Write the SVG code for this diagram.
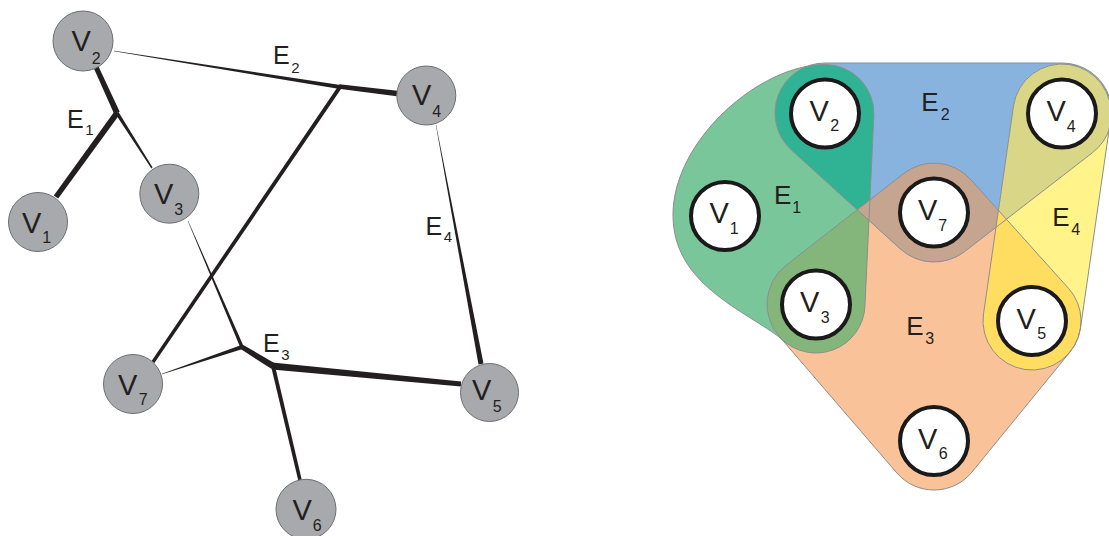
<svg xmlns="http://www.w3.org/2000/svg" width="1109" height="536" viewBox="0 0 1109 536">
  <style>
    .gnode { fill: #a7a9ac; stroke: #6d6e71; stroke-width: 1; }
    .wnode { fill: #ffffff; stroke: #1a1a1a; stroke-width: 4; }
    .edge { fill: #231f20; stroke: none; }
    .lbl { font-family: "Liberation Sans", Arial, sans-serif; fill: #231f20; }
    .hull-line { fill: none; stroke: #8e8e8e; stroke-width: 1; }
  </style>
  <defs>
    <!-- rounded hulls of the hyperedges -->
    <path id="hE1" d="M873.9,115.3 L864.9,306.3 A49,49 0 0 1 781.9,339.2 C745,310 673,285 673,215 C673,140 760,64.5 825,64.5 A49,49 0 0 1 873.9,115.3 Z"/>
    <path id="hE2" d="M825,63 L1062,63 A50,50 0 0 1 1092.6,152.6 L964.6,251.6 A50,50 0 0 1 900.4,249 L791.4,150 A50,50 0 0 1 825,63 Z"/>
    <path id="hE3" d="M970.4,179.2 L1068.4,288.2 A49,49 0 0 1 1070,352 L972,472 A49,49 0 0 1 896.9,473 L778.9,336 A49,49 0 0 1 785.9,265.4 L903.9,173.4 A49,49 0 0 1 970.4,179.2 Z"/>
    <path id="hE4" d="M1110.5,120 L1080.5,328 A49,49 0 0 1 983.5,314 L1013.5,106 A49,49 0 0 1 1110.5,120 Z"/>
    <clipPath id="cE1"><use href="#hE1"/></clipPath>
    <clipPath id="cE2"><use href="#hE2"/></clipPath>
    <clipPath id="cE3"><use href="#hE3"/></clipPath>
  </defs>

  <!-- left: graph with tapered edges -->
  <g id="connectors">
    <!-- E1 -->
    <polygon class="edge" points="93.7,68.0 114.3,114.2 119.7,111.8 98.3,66.0"/>
    <polygon class="edge" points="114.6,111.2 53.8,195.4 58.2,198.6 119.4,114.8"/>
    <polygon class="edge" points="115.5,113.9 151.4,168.4 152.6,167.6 118.5,112.1"/>
    <!-- E2 -->
    <polygon class="edge" points="114,51.2 339.7,89.0 340.3,85.0 114,50.8"/>
    <polygon class="edge" points="338.7,88.7 396.7,96.2 397.3,90.8 339.3,84.3"/>
    <polygon class="edge" points="338.3,85.9 151.6,361.0 154.4,363.0 341.7,88.1"/>
    <!-- E3 -->
    <polygon class="edge" points="187.8,221.1 240.4,347.7 243.6,346.3 188.2,220.9"/>
    <polygon class="edge" points="162.05,374.14 242.6,348.9 241.4,345.1 161.95,373.86"/>
    <polygon class="edge" points="240.7,349.1 271.3,368.8 274.7,363.2 243.3,344.9"/>
    <polygon class="edge" points="271.7,369.5 460.8,386.5 461.2,381.5 272.3,362.5"/>
    <polygon class="edge" points="271.1,366.5 298.3,480.4 301.7,479.6 274.9,365.5"/>
    <!-- E4 -->
    <polygon class="edge" points="435.85,125.03 478.5,364.5 483.5,363.5 436.15,124.97"/>
  </g>

  <g id="edge-labels-left" class="lbl">
    <text x="67" y="127.5" font-size="25">E<tspan font-size="15" dx="1.5" dy="7">1</tspan></text>
    <text x="273" y="63.5" font-size="25">E<tspan font-size="15" dx="1.5" dy="9">2</tspan></text>
    <text x="263" y="351.5" font-size="25">E<tspan font-size="15" dx="1.5" dy="8">3</tspan></text>
    <text x="425.5" y="235" font-size="25">E<tspan font-size="15" dx="1.5" dy="7">4</tspan></text>
  </g>

  <g id="g-v1"><circle class="gnode" cx="38" cy="222" r="29.5"/><text class="lbl" x="22" y="233" font-size="29">V<tspan font-size="16" dx="1" dy="10">1</tspan></text></g>
  <g id="g-v2"><circle class="gnode" cx="83" cy="41" r="30"/><text class="lbl" x="71.5" y="51" font-size="29">V<tspan font-size="16" dx="1" dy="13">2</tspan></text></g>
  <g id="g-v3"><circle class="gnode" cx="169.3" cy="193.7" r="29.5"/><text class="lbl" x="154" y="204" font-size="29">V<tspan font-size="16" dx="1" dy="11">3</tspan></text></g>
  <g id="g-v4"><circle class="gnode" cx="426.3" cy="95.5" r="29.5"/><text class="lbl" x="412" y="105" font-size="29">V<tspan font-size="16" dx="1" dy="11.5">4</tspan></text></g>
  <g id="g-v5"><circle class="gnode" cx="489.5" cy="392.5" r="29"/><text class="lbl" x="472" y="400" font-size="29">V<tspan font-size="16" dx="1.5" dy="11.5">5</tspan></text></g>
  <g id="g-v6"><circle class="gnode" cx="306" cy="509.3" r="30"/><text class="lbl" x="292.5" y="520" font-size="29">V<tspan font-size="16" dx="1" dy="10.5">6</tspan></text></g>
  <g id="g-v7"><circle class="gnode" cx="133" cy="384" r="29.5"/><text class="lbl" x="118" y="395" font-size="29">V<tspan font-size="16" dx="1.5" dy="10">7</tspan></text></g>

  <!-- right: hypergraph drawn as overlapping hulls -->
  <g id="hulls">
    <use href="#hE3" fill="#f9c298"/>
    <use href="#hE2" fill="#89b3df"/>
    <use href="#hE1" fill="#79c69a"/>
    <use href="#hE4" fill="#fff389"/>
    <!-- overlaps -->
    <use href="#hE2" fill="#30b294" clip-path="url(#cE1)"/>
    <use href="#hE3" fill="#84b57a" clip-path="url(#cE1)"/>
    <use href="#hE3" fill="#c5a490" clip-path="url(#cE2)"/>
    <use href="#hE4" fill="#d9d687" clip-path="url(#cE2)"/>
    <use href="#hE4" fill="#ffdd60" clip-path="url(#cE3)"/>
    <!-- outlines -->
    <use href="#hE1" class="hull-line"/>
    <use href="#hE2" class="hull-line"/>
    <use href="#hE3" class="hull-line"/>
    <use href="#hE4" class="hull-line"/>
  </g>

  <g id="edge-labels-right" class="lbl">
    <text x="774" y="204" font-size="26">E<tspan font-size="16" dx="1" dy="8.5">1</tspan></text>
    <text x="921.3" y="111" font-size="26">E<tspan font-size="16" dx="2" dy="9">2</tspan></text>
    <text x="906.3" y="335" font-size="26">E<tspan font-size="16" dx="1.5" dy="9">3</tspan></text>
    <text x="1052.3" y="226" font-size="26">E<tspan font-size="16" dx="1.5" dy="8.5">4</tspan></text>
  </g>

  <g id="h-v1"><circle class="wnode" cx="725" cy="216" r="34"/><text class="lbl" x="709.5" y="223" font-size="29">V<tspan font-size="16" dx="1" dy="11">1</tspan></text></g>
  <g id="h-v2"><circle class="wnode" cx="825" cy="113.5" r="34"/><text class="lbl" x="809.5" y="120.5" font-size="29">V<tspan font-size="16" dx="1.5" dy="10">2</tspan></text></g>
  <g id="h-v3"><circle class="wnode" cx="816" cy="304.5" r="34"/><text class="lbl" x="800" y="311.5" font-size="29">V<tspan font-size="16" dx="1.5" dy="11">3</tspan></text></g>
  <g id="h-v4"><circle class="wnode" cx="1062" cy="113.5" r="34"/><text class="lbl" x="1046.5" y="121" font-size="29">V<tspan font-size="16" dx="1" dy="10.5">4</tspan></text></g>
  <g id="h-v5"><circle class="wnode" cx="1032" cy="321" r="34"/><text class="lbl" x="1016.5" y="328.5" font-size="29">V<tspan font-size="16" dx="1.5" dy="10.5">5</tspan></text></g>
  <g id="h-v6"><circle class="wnode" cx="934" cy="441" r="34"/><text class="lbl" x="918" y="448.5" font-size="29">V<tspan font-size="16" dx="1.5" dy="10.5">6</tspan></text></g>
  <g id="h-v7"><circle class="wnode" cx="934" cy="212.5" r="34"/><text class="lbl" x="918" y="220" font-size="29">V<tspan font-size="16" dx="1" dy="10.5">7</tspan></text></g>
</svg>
